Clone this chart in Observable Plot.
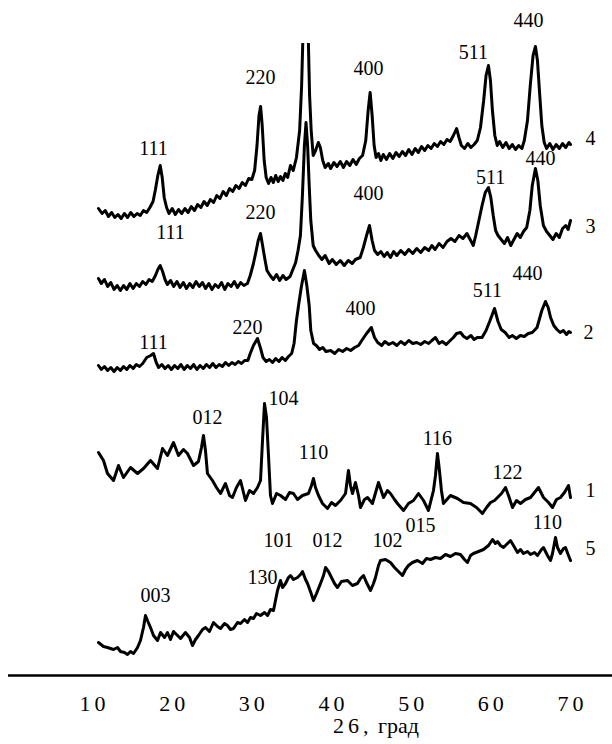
<!DOCTYPE html>
<html>
<head>
<meta charset="utf-8">
<script src="https://cdn.jsdelivr.net/npm/d3@7"></script>
<script src="https://cdn.jsdelivr.net/npm/@observablehq/plot@0.6"></script>
<style>
  html, body { margin: 0; padding: 0; background: #fff; }
  #wrap { width: 612px; }
  g[aria-label="x-axis tick label"] text { letter-spacing: 4px; }
  #caption { font-family: "Liberation Serif", serif; font-size: 22px; line-height: 11px; height: 24px; padding-left: 333px; color: #000; white-space: nowrap; }
  #caption .sp { letter-spacing: 4px; }
</style>
</head>
<body>
<div id="wrap"></div>
<script>
// 2θ (deg) vs intensity (arb. units) for the five diffraction patterns
const curve4 = [[10.75,467],[11.2,462],[11.6,465],[12.0,459],[12.4,463],[12.8,458],[13.2,461],[13.6,457],[14.0,462],[14.4,458],[14.8,463],[15.2,459],[15.6,462],[16.0,460],[16.4,465],[16.8,463],[17.2,468],[17.6,474],[17.9,486],[18.2,500],[18.5,510],[18.75,498],[19.0,478],[19.3,468],[19.6,462],[20.0,467],[20.4,461],[20.8,466],[21.2,462],[21.6,467],[22.0,463],[22.4,469],[22.8,465],[23.2,471],[23.6,468],[24.0,474],[24.4,470],[24.8,476],[25.2,473],[25.6,480],[26.0,477],[26.4,484],[26.8,480],[27.2,487],[27.6,484],[28.0,490],[28.4,487],[28.8,493],[29.2,490],[29.6,497],[30.0,496],[30.35,505],[30.65,530],[30.9,560],[31.1,569],[31.3,550],[31.55,515],[31.8,498],[32.1,492],[32.4,498],[32.7,493],[33.0,500],[33.3,494],[33.6,499],[33.9,495],[34.2,502],[34.5,498],[34.85,510],[35.2,505],[35.6,518],[36.0,545],[36.25,590],[36.45,650],[36.75,720],[37.05,650],[37.25,580],[37.45,545],[37.7,520],[38.0,525],[38.35,533],[38.6,528],[38.9,515],[39.2,508],[39.6,512],[39.9,507],[40.3,513],[40.7,509],[41.1,514],[41.5,508],[41.9,514],[42.3,510],[42.7,516],[43.1,511],[43.5,517],[43.9,520],[44.3,535],[44.6,565],[44.85,583],[45.1,560],[45.35,530],[45.6,518],[45.9,522],[46.2,515],[46.5,521],[46.9,516],[47.3,522],[47.7,517],[48.1,523],[48.5,519],[48.9,524],[49.3,520],[49.7,526],[50.1,521],[50.5,527],[50.9,523],[51.3,529],[51.7,525],[52.1,530],[52.5,527],[52.9,532],[53.3,529],[53.7,534],[54.1,531],[54.5,536],[54.9,534],[55.3,540],[55.7,547],[56.0,538],[56.3,530],[56.7,527],[57.1,532],[57.5,528],[57.9,531],[58.3,535],[58.7,548],[59.1,575],[59.4,600],[59.7,610],[59.95,595],[60.2,565],[60.5,540],[60.8,530],[61.1,534],[61.5,528],[61.9,533],[62.3,527],[62.7,531],[63.1,526],[63.5,530],[63.9,527],[64.2,535],[64.6,555],[64.95,590],[65.3,620],[65.6,629],[65.85,615],[66.1,585],[66.4,550],[66.7,533],[67.0,527],[67.4,532],[67.8,526],[68.2,531],[68.6,527],[69.0,532],[69.4,528],[69.8,533],[70.0,531]];

const curve3 = [[10.75,397],[11.1,392],[11.5,396],[11.9,389],[12.3,393],[12.7,386],[13.1,390],[13.5,385],[13.9,390],[14.3,386],[14.7,392],[15.1,387],[15.5,392],[15.9,389],[16.3,394],[16.7,391],[17.1,396],[17.5,394],[17.9,400],[18.2,406],[18.5,410],[18.8,404],[19.1,396],[19.4,391],[19.8,395],[20.2,389],[20.6,394],[21.0,388],[21.4,393],[21.8,387],[22.2,392],[22.6,388],[23.0,394],[23.4,389],[23.8,393],[24.2,387],[24.6,392],[25.0,386],[25.4,391],[25.8,388],[26.2,393],[26.6,386],[27.0,392],[27.4,389],[27.8,394],[28.2,388],[28.6,393],[29.0,390],[29.45,392],[29.8,400],[30.2,412],[30.5,423],[30.8,435],[31.09,442],[31.35,430],[31.6,418],[31.9,405],[32.3,400],[32.7,396],[33.1,401],[33.5,395],[33.9,400],[34.3,396],[34.8,399],[35.1,405],[35.5,413],[35.8,425],[36.1,440],[36.35,480],[36.6,530],[36.8,553],[37.0,530],[37.2,490],[37.4,455],[37.7,430],[38.0,425],[38.4,420],[38.8,416],[39.2,420],[39.7,412],[40.1,416],[40.6,411],[41.1,415],[41.6,410],[42.1,415],[42.6,412],[43.0,416],[43.6,418],[44.0,428],[44.4,440],[44.77,450],[45.1,435],[45.4,425],[45.8,421],[46.2,424],[46.6,419],[47.0,423],[47.4,418],[47.8,424],[48.2,420],[48.7,425],[49.2,421],[49.7,426],[50.2,422],[50.7,427],[51.2,423],[51.7,428],[52.2,425],[52.6,430],[53.0,426],[53.5,432],[54.0,428],[54.5,434],[55.0,437],[55.5,434],[56.0,440],[56.5,437],[57.0,442],[57.4,436],[57.8,430],[58.1,440],[58.5,455],[58.9,470],[59.3,483],[59.7,488],[60.0,478],[60.3,460],[60.6,445],[60.9,440],[61.3,436],[61.7,432],[62.1,438],[62.5,430],[62.9,436],[63.3,442],[63.7,438],[64.1,444],[64.5,448],[64.9,465],[65.2,490],[65.6,507],[65.9,495],[66.2,470],[66.6,450],[67.0,444],[67.4,440],[67.8,436],[68.2,442],[68.6,438],[69.0,447],[69.4,450],[69.7,446],[70.0,455]];

const curve2 = [[10.75,310],[11.1,306],[11.5,309],[11.9,305],[12.3,308],[12.7,304],[13.1,308],[13.5,305],[13.9,309],[14.3,306],[14.7,310],[15.1,307],[15.5,311],[15.9,309],[16.3,312],[16.8,318],[17.3,320],[17.66,322],[18.0,313],[18.3,308],[18.7,311],[19.1,307],[19.5,310],[19.9,306],[20.3,310],[20.7,307],[21.1,311],[21.5,306],[21.9,310],[22.3,307],[22.7,311],[23.1,306],[23.5,310],[23.9,307],[24.3,311],[24.7,308],[25.1,312],[25.5,308],[25.9,311],[26.3,309],[26.7,313],[27.1,310],[27.5,313],[27.9,311],[28.3,314],[28.7,312],[29.1,315],[29.5,315],[29.8,322],[30.2,330],[30.71,337],[31.1,327],[31.4,318],[31.8,314],[32.2,316],[32.6,313],[33.0,317],[33.4,314],[33.8,318],[34.2,315],[34.6,319],[35.0,322],[35.3,332],[35.6,355],[35.9,372],[36.2,388],[36.6,405],[36.9,390],[37.2,370],[37.4,345],[37.75,332],[38.1,330],[38.5,326],[38.9,328],[39.3,324],[39.9,325],[40.4,322],[40.9,326],[41.4,324],[41.9,327],[42.4,325],[42.9,328],[43.4,330],[43.8,335],[44.4,342],[45.0,348],[45.4,338],[45.8,333],[46.3,330],[46.7,334],[47.2,331],[47.7,333],[48.2,330],[48.7,334],[49.2,331],[49.7,335],[50.2,332],[50.7,333],[51.2,331],[51.7,334],[52.2,332],[52.6,335],[53.05,338],[53.5,332],[53.9,334],[54.4,331],[54.9,335],[55.3,338],[55.7,342],[56.2,343],[56.6,339],[57.0,337],[57.5,340],[57.9,336],[58.3,338],[58.9,338],[59.4,345],[59.9,355],[60.46,367],[60.9,354],[61.3,346],[61.8,343],[62.3,338],[62.7,340],[63.2,337],[63.7,340],[64.2,339],[64.7,342],[65.2,343],[65.8,348],[66.4,365],[66.86,374],[67.2,368],[67.5,358],[67.9,350],[68.3,346],[68.7,343],[69.1,345],[69.5,341],[69.8,344],[70.0,343]];

const curve1 = [[10.75,223],[11.38,215],[11.88,202],[12.64,195],[13.26,210],[13.89,198],[14.77,208],[15.65,202],[16.4,207],[17.28,215],[18.16,207],[18.79,227],[19.41,220],[20.17,233],[20.79,220],[21.42,226],[21.92,222],[22.68,210],[23.3,214],[23.68,228],[23.93,240],[24.18,225],[24.43,202],[25.06,195],[25.56,188],[26.07,182],[26.69,192],[27.2,180],[27.57,178],[28.07,188],[28.58,195],[29.2,175],[29.7,185],[30.21,182],[30.71,188],[31.09,195],[31.34,235],[31.59,272],[31.84,258],[32.09,220],[32.34,180],[32.59,172],[33.1,182],[33.6,180],[34.23,176],[34.73,183],[35.23,182],[35.73,176],[36.36,180],[37.11,182],[37.49,190],[37.74,197],[37.99,188],[38.37,180],[38.87,172],[39.5,167],[40.0,173],[40.5,170],[41.13,175],[41.76,182],[42.13,205],[42.38,190],[42.63,182],[43.01,193],[43.39,180],[43.64,168],[44.14,176],[44.52,178],[45.14,172],[45.9,193],[46.53,178],[47.03,185],[47.4,182],[47.91,176],[48.28,172],[49.04,165],[49.66,172],[50.29,175],[50.92,182],[51.55,175],[52.17,165],[52.8,185],[53.05,200],[53.3,222],[53.55,205],[53.8,185],[54.05,172],[54.93,180],[55.81,177],[56.57,173],[57.45,172],[58.2,168],[58.95,162],[59.46,168],[59.96,173],[60.46,175],[60.84,178],[61.34,182],[61.84,188],[62.22,180],[62.72,168],[63.22,175],[63.72,172],[64.35,176],[64.98,178],[65.48,183],[65.98,188],[66.61,178],[67.24,173],[67.74,168],[68.24,176],[68.74,178],[69.24,183],[69.75,190],[70.0,178]];

const curve5 = [[10.75,33],[11.38,29],[11.88,28],[12.64,26],[13.14,28],[13.51,24],[14.02,23],[14.39,21],[14.77,24],[15.15,22],[15.65,28],[16.02,35],[16.4,48],[16.65,60],[16.9,55],[17.28,48],[17.66,40],[18.16,35],[18.54,43],[19.04,38],[19.41,43],[19.79,36],[20.17,44],[20.67,40],[21.05,37],[21.67,43],[22.18,38],[22.55,30],[22.93,36],[23.3,40],[23.81,46],[24.18,48],[24.68,44],[25.19,53],[25.69,49],[26.07,47],[26.57,52],[26.94,50],[27.32,46],[27.7,47],[28.2,53],[28.58,52],[29.08,56],[29.46,53],[29.83,58],[30.21,57],[30.58,62],[31.09,60],[31.59,63],[31.97,60],[32.34,66],[32.72,65],[32.97,75],[33.22,85],[33.6,95],[33.85,88],[34.23,92],[34.6,98],[34.85,100],[35.23,96],[35.73,98],[36.11,101],[36.36,104],[36.74,96],[36.99,92],[37.36,84],[37.74,75],[38.12,82],[38.62,92],[39.0,100],[39.25,108],[39.62,104],[40.0,98],[40.38,92],[40.75,88],[41.25,94],[42.01,95],[42.63,90],[43.26,92],[43.64,97],[44.02,100],[44.39,93],[44.9,85],[45.27,92],[45.52,98],[45.9,110],[46.15,115],[46.78,116],[47.4,113],[47.91,108],[48.28,105],[48.91,100],[49.29,106],[49.66,110],[50.16,113],[50.79,115],[51.42,112],[51.92,117],[52.43,116],[53.05,118],[53.68,117],[54.31,121],[54.93,119],[55.56,122],[56.19,121],[56.69,116],[57.07,113],[57.45,120],[57.82,122],[58.45,124],[59.08,126],[59.71,130],[60.21,136],[60.58,132],[60.84,134],[61.21,130],[61.59,128],[62.09,132],[62.47,135],[62.84,130],[63.35,123],[63.72,126],[64.1,122],[64.6,124],[64.98,121],[65.48,123],[65.86,120],[66.36,126],[66.61,128],[67.11,120],[67.49,115],[67.74,122],[68.12,138],[68.37,128],[68.74,122],[69.12,127],[69.37,128],[69.75,120],[70.0,115]];

// reflection (hkl) labels: [text, 2θ, intensity]
const labels4 = [["111",17.66,527],["220",31.09,598],["400",44.64,607],["511",57.82,623],["440",64.73,655]];
const labels3 = [["111",19.79,443],["220",31.09,463],["400",44.64,482],["511",59.96,498],["440",66.23,517]];
const labels2 = [["111",17.66,333],["220",29.46,348],["400",43.64,367],["511",59.58,385],["440",64.6,402]];
const labels1 = [["012",24.43,258],["104",33.97,277],["110",37.74,223],["116",53.3,237],["122",62.09,203]];
const labels5 = [["003",17.91,80],["130",31.34,98],["101",33.35,135],["012",39.5,135],["102",47.03,135],["015",51.17,150],["110",67.11,153]];
// curve numbers: [text, 2θ, intensity]
const curveNames = [["4",72.51,537],["3",72.51,449],["2",72.26,343],["1",72.51,185],["5",72.51,127]];

const xTicks = [10, 20, 30, 40, 50, 60, 70];
const xLabel = "26, град";

const series = [["4", curve4], ["3", curve3], ["2", curve2], ["1", curve1], ["5", curve5]];
const rows = series.flatMap(([id, pts]) => pts.map(([x, y]) => ({id, x, y})));
const labelRows = [...labels4, ...labels3, ...labels2, ...labels1, ...labels5].map(([t, x, y]) => ({t, x, y}));
const nameRows = curveNames.map(([t, x, y]) => ({t, x, y}));

const chart = Plot.plot({
  width: 612,
  height: 720,
  marginTop: 43,
  marginBottom: 45,
  marginLeft: 8,
  marginRight: 0,
  style: {fontFamily: "'Liberation Serif', 'Times New Roman', serif", background: "white", color: "black"},
  x: {domain: [10, 70], range: [92, 570]},
  y: {domain: [0, 632], axis: null},
  marks: [
    Plot.ruleY([0], {stroke: "black", strokeWidth: 2.5}),
    Plot.line(rows, {x: "x", y: "y", z: "id", stroke: "black", strokeWidth: 3, strokeLinejoin: "round", clip: true}),
    Plot.text(labelRows, {x: "x", y: "y", text: "t", fontSize: 20, fill: "black"}),
    Plot.text(nameRows, {x: "x", y: "y", text: "t", fontSize: 20, fill: "black"}),
    Plot.axisX({ticks: xTicks, tickSize: 0, tickPadding: 20, fontSize: 22, dx: 2, label: null, tickFormat: d => String(d), fill: "black"})
  ]
});
document.getElementById("wrap").appendChild(chart);
const cap = document.createElement("div");
cap.id = "caption";
const parts = xLabel.split(" ");
cap.innerHTML = `<span class="sp">${parts[0]}</span> ${parts.slice(1).join(" ")}`;
document.getElementById("wrap").appendChild(cap);
</script>
</body>
</html>
